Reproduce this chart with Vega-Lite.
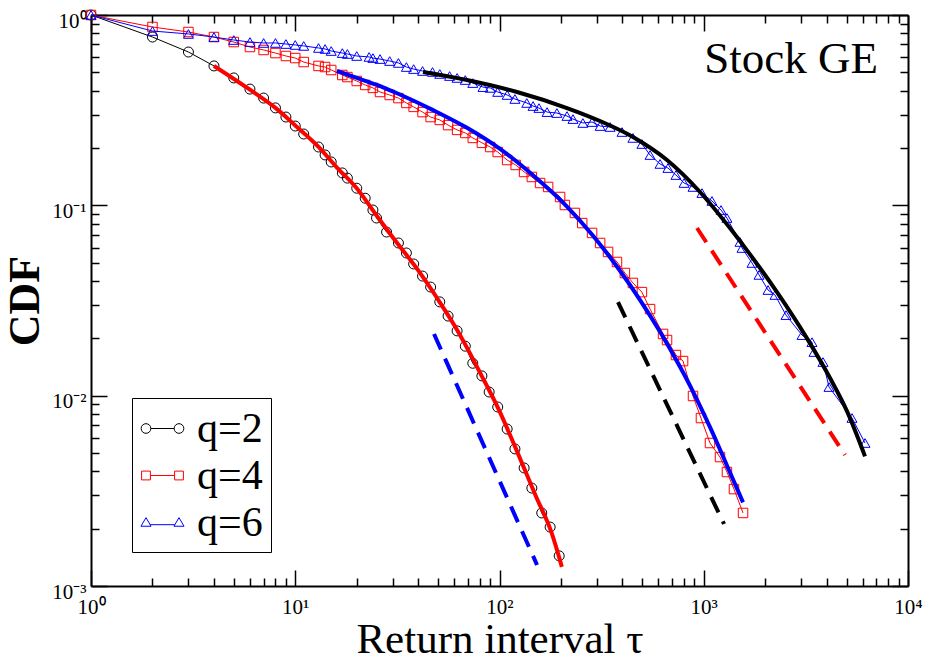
{
  "$schema": "https://vega.github.io/schema/vega-lite/v6.json",
  "width": 817,
  "height": 571,
  "autosize": "none",
  "padding": {"left": 91, "top": 15, "right": 27, "bottom": 79},
  "background": "white",
  "config": {
    "view": {"stroke": null},
    "font": "Liberation Serif",
    "axis": {"grid": false, "domainColor": "black", "domainWidth": 2, "tickColor": "black", "tickWidth": 1.5, "labelColor": "black", "titleColor": "black"}
  },
  "datasets": {
    "series": [
      {"q": "q=2", "tau": 1, "cdf": 1}, {"q": "q=2", "tau": 2, "cdf": 0.766}, {"q": "q=2", "tau": 3, "cdf": 0.639}, {"q": "q=2", "tau": 4, "cdf": 0.54}, {"q": "q=2", "tau": 5, "cdf": 0.467}, {"q": "q=2", "tau": 6, "cdf": 0.408}, {"q": "q=2", "tau": 7, "cdf": 0.366}, {"q": "q=2", "tau": 8, "cdf": 0.325}, {"q": "q=2", "tau": 9, "cdf": 0.291}, {"q": "q=2", "tau": 10, "cdf": 0.261}, {"q": "q=2", "tau": 11, "cdf": 0.237}, {"q": "q=2", "tau": 13, "cdf": 0.2025}, {"q": "q=2", "tau": 14, "cdf": 0.184}, {"q": "q=2", "tau": 15, "cdf": 0.169}, {"q": "q=2", "tau": 17, "cdf": 0.148}, {"q": "q=2", "tau": 18, "cdf": 0.139}, {"q": "q=2", "tau": 20, "cdf": 0.123}, {"q": "q=2", "tau": 22, "cdf": 0.109}, {"q": "q=2", "tau": 24, "cdf": 0.0945}, {"q": "q=2", "tau": 25, "cdf": 0.0858}, {"q": "q=2", "tau": 28, "cdf": 0.0724}, {"q": "q=2", "tau": 32, "cdf": 0.0634}, {"q": "q=2", "tau": 35, "cdf": 0.0562}, {"q": "q=2", "tau": 38, "cdf": 0.0492}, {"q": "q=2", "tau": 42, "cdf": 0.0425}, {"q": "q=2", "tau": 46, "cdf": 0.0372}, {"q": "q=2", "tau": 51, "cdf": 0.0311}, {"q": "q=2", "tau": 56, "cdf": 0.0262}, {"q": "q=2", "tau": 62, "cdf": 0.0219}, {"q": "q=2", "tau": 68, "cdf": 0.0182}, {"q": "q=2", "tau": 74, "cdf": 0.0148}, {"q": "q=2", "tau": 82, "cdf": 0.0127}, {"q": "q=2", "tau": 89, "cdf": 0.01045}, {"q": "q=2", "tau": 98, "cdf": 0.00872}, {"q": "q=2", "tau": 109, "cdf": 0.00668}, {"q": "q=2", "tau": 119, "cdf": 0.00525}, {"q": "q=2", "tau": 132, "cdf": 0.00417}, {"q": "q=2", "tau": 144, "cdf": 0.00327}, {"q": "q=2", "tau": 161, "cdf": 0.00242}, {"q": "q=2", "tau": 177, "cdf": 0.00204}, {"q": "q=2", "tau": 196, "cdf": 0.00144},
      {"q": "q=4", "tau": 1, "cdf": 1}, {"q": "q=4", "tau": 2, "cdf": 0.865}, {"q": "q=4", "tau": 3, "cdf": 0.814}, {"q": "q=4", "tau": 4, "cdf": 0.766}, {"q": "q=4", "tau": 5, "cdf": 0.721}, {"q": "q=4", "tau": 6, "cdf": 0.679}, {"q": "q=4", "tau": 7, "cdf": 0.655}, {"q": "q=4", "tau": 8, "cdf": 0.631}, {"q": "q=4", "tau": 9, "cdf": 0.609}, {"q": "q=4", "tau": 10, "cdf": 0.594}, {"q": "q=4", "tau": 11, "cdf": 0.566}, {"q": "q=4", "tau": 13, "cdf": 0.54}, {"q": "q=4", "tau": 14, "cdf": 0.533}, {"q": "q=4", "tau": 15, "cdf": 0.514}, {"q": "q=4", "tau": 17, "cdf": 0.484}, {"q": "q=4", "tau": 18, "cdf": 0.472}, {"q": "q=4", "tau": 20, "cdf": 0.45}, {"q": "q=4", "tau": 22, "cdf": 0.429}, {"q": "q=4", "tau": 24, "cdf": 0.414}, {"q": "q=4", "tau": 26, "cdf": 0.394}, {"q": "q=4", "tau": 29, "cdf": 0.38}, {"q": "q=4", "tau": 32, "cdf": 0.366}, {"q": "q=4", "tau": 35, "cdf": 0.345}, {"q": "q=4", "tau": 38, "cdf": 0.329}, {"q": "q=4", "tau": 42, "cdf": 0.309}, {"q": "q=4", "tau": 46, "cdf": 0.291}, {"q": "q=4", "tau": 51, "cdf": 0.281}, {"q": "q=4", "tau": 56, "cdf": 0.264}, {"q": "q=4", "tau": 62, "cdf": 0.249}, {"q": "q=4", "tau": 68, "cdf": 0.24}, {"q": "q=4", "tau": 74, "cdf": 0.226}, {"q": "q=4", "tau": 82, "cdf": 0.213}, {"q": "q=4", "tau": 90, "cdf": 0.2025}, {"q": "q=4", "tau": 98, "cdf": 0.1906}, {"q": "q=4", "tau": 109, "cdf": 0.173}, {"q": "q=4", "tau": 120, "cdf": 0.163}, {"q": "q=4", "tau": 132, "cdf": 0.1497}, {"q": "q=4", "tau": 144, "cdf": 0.1409}, {"q": "q=4", "tau": 158, "cdf": 0.131}, {"q": "q=4", "tau": 173, "cdf": 0.1249}, {"q": "q=4", "tau": 198, "cdf": 0.1106}, {"q": "q=4", "tau": 209, "cdf": 0.1004}, {"q": "q=4", "tau": 234, "cdf": 0.0912}, {"q": "q=4", "tau": 254, "cdf": 0.0807}, {"q": "q=4", "tau": 284, "cdf": 0.0716}, {"q": "q=4", "tau": 311, "cdf": 0.0634}, {"q": "q=4", "tau": 340, "cdf": 0.0569}, {"q": "q=4", "tau": 376, "cdf": 0.0504}, {"q": "q=4", "tau": 411, "cdf": 0.0441}, {"q": "q=4", "tau": 450, "cdf": 0.0391}, {"q": "q=4", "tau": 498, "cdf": 0.035}, {"q": "q=4", "tau": 546, "cdf": 0.0285}, {"q": "q=4", "tau": 632, "cdf": 0.0211}, {"q": "q=4", "tau": 661, "cdf": 0.0196}, {"q": "q=4", "tau": 731, "cdf": 0.01635}, {"q": "q=4", "tau": 792, "cdf": 0.0152}, {"q": "q=4", "tau": 886, "cdf": 0.00996}, {"q": "q=4", "tau": 969, "cdf": 0.00763}, {"q": "q=4", "tau": 1073, "cdf": 0.00564}, {"q": "q=4", "tau": 1201, "cdf": 0.00476}, {"q": "q=4", "tau": 1299, "cdf": 0.00397}, {"q": "q=4", "tau": 1406, "cdf": 0.00323}, {"q": "q=4", "tau": 1557, "cdf": 0.00242},
      {"q": "q=6", "tau": 1, "cdf": 1}, {"q": "q=6", "tau": 2, "cdf": 0.824}, {"q": "q=6", "tau": 3, "cdf": 0.795}, {"q": "q=6", "tau": 4, "cdf": 0.766}, {"q": "q=6", "tau": 5, "cdf": 0.739}, {"q": "q=6", "tau": 6, "cdf": 0.721}, {"q": "q=6", "tau": 7, "cdf": 0.713}, {"q": "q=6", "tau": 8, "cdf": 0.713}, {"q": "q=6", "tau": 9, "cdf": 0.704}, {"q": "q=6", "tau": 10, "cdf": 0.696}, {"q": "q=6", "tau": 11, "cdf": 0.688}, {"q": "q=6", "tau": 13, "cdf": 0.671}, {"q": "q=6", "tau": 14, "cdf": 0.663}, {"q": "q=6", "tau": 15, "cdf": 0.647}, {"q": "q=6", "tau": 17, "cdf": 0.631}, {"q": "q=6", "tau": 18, "cdf": 0.624}, {"q": "q=6", "tau": 20, "cdf": 0.609}, {"q": "q=6", "tau": 23, "cdf": 0.602}, {"q": "q=6", "tau": 24, "cdf": 0.594}, {"q": "q=6", "tau": 26, "cdf": 0.587}, {"q": "q=6", "tau": 29, "cdf": 0.573}, {"q": "q=6", "tau": 32, "cdf": 0.56}, {"q": "q=6", "tau": 35, "cdf": 0.533}, {"q": "q=6", "tau": 38, "cdf": 0.52}, {"q": "q=6", "tau": 42, "cdf": 0.508}, {"q": "q=6", "tau": 47, "cdf": 0.502}, {"q": "q=6", "tau": 51, "cdf": 0.49}, {"q": "q=6", "tau": 57, "cdf": 0.478}, {"q": "q=6", "tau": 62, "cdf": 0.467}, {"q": "q=6", "tau": 68, "cdf": 0.4555}, {"q": "q=6", "tau": 74, "cdf": 0.439}, {"q": "q=6", "tau": 83, "cdf": 0.418}, {"q": "q=6", "tau": 90, "cdf": 0.414}, {"q": "q=6", "tau": 98, "cdf": 0.394}, {"q": "q=6", "tau": 109, "cdf": 0.38}, {"q": "q=6", "tau": 119, "cdf": 0.362}, {"q": "q=6", "tau": 136, "cdf": 0.345}, {"q": "q=6", "tau": 146, "cdf": 0.3325}, {"q": "q=6", "tau": 156, "cdf": 0.3245}, {"q": "q=6", "tau": 171, "cdf": 0.309}, {"q": "q=6", "tau": 191, "cdf": 0.3055}, {"q": "q=6", "tau": 214, "cdf": 0.2946}, {"q": "q=6", "tau": 229, "cdf": 0.284}, {"q": "q=6", "tau": 256, "cdf": 0.2708}, {"q": "q=6", "tau": 284, "cdf": 0.274}, {"q": "q=6", "tau": 311, "cdf": 0.261}, {"q": "q=6", "tau": 348, "cdf": 0.258}, {"q": "q=6", "tau": 398, "cdf": 0.2428}, {"q": "q=6", "tau": 450, "cdf": 0.226}, {"q": "q=6", "tau": 498, "cdf": 0.21}, {"q": "q=6", "tau": 546, "cdf": 0.1838}, {"q": "q=6", "tau": 611, "cdf": 0.165}, {"q": "q=6", "tau": 668, "cdf": 0.157}, {"q": "q=6", "tau": 731, "cdf": 0.1443}, {"q": "q=6", "tau": 801, "cdf": 0.131}, {"q": "q=6", "tau": 886, "cdf": 0.1249}, {"q": "q=6", "tau": 980, "cdf": 0.116}, {"q": "q=6", "tau": 1097, "cdf": 0.1054}, {"q": "q=6", "tau": 1215, "cdf": 0.0945}, {"q": "q=6", "tau": 1299, "cdf": 0.0858}, {"q": "q=6", "tau": 1505, "cdf": 0.0642}, {"q": "q=6", "tau": 1539, "cdf": 0.0597}, {"q": "q=6", "tau": 1723, "cdf": 0.0498}, {"q": "q=6", "tau": 1865, "cdf": 0.0431}, {"q": "q=6", "tau": 2064, "cdf": 0.0359}, {"q": "q=6", "tau": 2233, "cdf": 0.0338}, {"q": "q=6", "tau": 2528, "cdf": 0.0265}, {"q": "q=6", "tau": 3028, "cdf": 0.0208}, {"q": "q=6", "tau": 3388, "cdf": 0.0191}, {"q": "q=6", "tau": 3466, "cdf": 0.01696}, {"q": "q=6", "tau": 3836, "cdf": 0.01502}, {"q": "q=6", "tau": 4105, "cdf": 0.0111}, {"q": "q=6", "tau": 5319, "cdf": 0.00763}, {"q": "q=6", "tau": 6159, "cdf": 0.00564}
    ],
    "fits": [
      {"q": "q=2", "tau": 4, "cdf": 0.54}, {"q": "q=2", "tau": 6, "cdf": 0.405}, {"q": "q=2", "tau": 8, "cdf": 0.325}, {"q": "q=2", "tau": 10, "cdf": 0.263}, {"q": "q=2", "tau": 13, "cdf": 0.203}, {"q": "q=2", "tau": 16, "cdf": 0.158}, {"q": "q=2", "tau": 20, "cdf": 0.123}, {"q": "q=2", "tau": 25, "cdf": 0.0885}, {"q": "q=2", "tau": 30, "cdf": 0.068}, {"q": "q=2", "tau": 40, "cdf": 0.0455}, {"q": "q=2", "tau": 50, "cdf": 0.032}, {"q": "q=2", "tau": 60, "cdf": 0.0235}, {"q": "q=2", "tau": 70, "cdf": 0.0175}, {"q": "q=2", "tau": 80, "cdf": 0.0133}, {"q": "q=2", "tau": 100, "cdf": 0.0083}, {"q": "q=2", "tau": 120, "cdf": 0.0053}, {"q": "q=2", "tau": 150, "cdf": 0.003}, {"q": "q=2", "tau": 180, "cdf": 0.0019}, {"q": "q=2", "tau": 202, "cdf": 0.00126},
      {"q": "q=4", "tau": 16, "cdf": 0.508}, {"q": "q=4", "tau": 21.5, "cdf": 0.455}, {"q": "q=4", "tau": 26.9, "cdf": 0.417}, {"q": "q=4", "tau": 31.5, "cdf": 0.3882}, {"q": "q=4", "tau": 47.3, "cdf": 0.3165}, {"q": "q=4", "tau": 69.3, "cdf": 0.2555}, {"q": "q=4", "tau": 100.6, "cdf": 0.1979}, {"q": "q=4", "tau": 145.9, "cdf": 0.1438}, {"q": "q=4", "tau": 214, "cdf": 0.0985}, {"q": "q=4", "tau": 287, "cdf": 0.0692}, {"q": "q=4", "tau": 389, "cdf": 0.0453}, {"q": "q=4", "tau": 487, "cdf": 0.0319}, {"q": "q=4", "tau": 611, "cdf": 0.02165}, {"q": "q=4", "tau": 765, "cdf": 0.01418}, {"q": "q=4", "tau": 886, "cdf": 0.01051}, {"q": "q=4", "tau": 1073, "cdf": 0.00683}, {"q": "q=4", "tau": 1299, "cdf": 0.0043}, {"q": "q=4", "tau": 1557, "cdf": 0.00275},
      {"q": "q=6", "tau": 42.2, "cdf": 0.502}, {"q": "q=6", "tau": 69.3, "cdf": 0.4555}, {"q": "q=6", "tau": 121.8, "cdf": 0.394}, {"q": "q=6", "tau": 214, "cdf": 0.3245}, {"q": "q=6", "tau": 310.5, "cdf": 0.2773}, {"q": "q=6", "tau": 450.4, "cdf": 0.2286}, {"q": "q=6", "tau": 660.7, "cdf": 0.173}, {"q": "q=6", "tau": 958.5, "cdf": 0.1175}, {"q": "q=6", "tau": 1391, "cdf": 0.0724}, {"q": "q=6", "tau": 1629, "cdf": 0.058}, {"q": "q=6", "tau": 2284, "cdf": 0.035}, {"q": "q=6", "tau": 3203, "cdf": 0.02}, {"q": "q=6", "tau": 4151, "cdf": 0.01238}, {"q": "q=6", "tau": 5026, "cdf": 0.00829}, {"q": "q=6", "tau": 6159, "cdf": 0.0048}
    ],
    "dashes": [
      {"q": "q=2", "tau": 47.8, "cdf": 0.0211}, {"q": "q=2", "tau": 152.7, "cdf": 0.00129},
      {"q": "q=4", "tau": 380.3, "cdf": 0.031}, {"q": "q=4", "tau": 1257, "cdf": 0.002117},
      {"q": "q=6", "tau": 926.8, "cdf": 0.076}, {"q": "q=6", "tau": 4916, "cdf": 0.00488}
    ],
    "note": [{"label": "Stock GE", "tau": 7130, "cdf": 0.496}],
    "keys": [{"q": "q=2"}, {"q": "q=4"}, {"q": "q=6"}]
  },
  "resolve": {"scale": {"color": "independent"}, "axis": {"x": "independent", "y": "independent"}},
  "layer": [
    {
      "data": {"name": "series"},
      "transform": [{"filter": "datum.q == 'q=2'"}],
      "mark": {"type": "line", "color": "#000000", "strokeWidth": 1, "point": {"shape": "circle", "filled": false, "stroke": "#000000", "fill": "transparent", "strokeWidth": 1, "size": 100, "opacity": 1}},
      "encoding": {
        "x": {"field": "tau", "type": "quantitative", "scale": {"type": "log", "domain": [1, 10000], "nice": false},
          "axis": {"orient": "bottom", "values": [1, 10, 100, 1000, 10000], "ticks": false, "domain": true, "labelExpr": "'10' + ['⁰','¹','²','³','⁴'][round(log(datum.value)/LN10)]", "labelFont": "Liberation Serif", "labelFontSize": 21, "labelPadding": 10, "labelFlush": false, "labelOverlap": false, "title": "Return interval τ", "titleFont": "Liberation Serif", "titleFontSize": 43, "titleFontWeight": "normal", "titlePadding": 1}},
        "y": {"field": "cdf", "type": "quantitative", "scale": {"type": "log", "domain": [0.001, 1], "nice": false},
          "axis": {"orient": "left", "values": [0.001, 0.01, 0.1, 1], "ticks": false, "domain": true, "labelExpr": "'10' + ['⁰','⁻¹','⁻²','⁻³'][round(-log(datum.value)/LN10)]", "labelFont": "Liberation Serif", "labelFontSize": 21, "labelPadding": 5, "labelBaseline": "alphabetic", "labelOffset": 12, "labelFlush": false, "labelOverlap": false, "title": "CDF", "titleFont": "Liberation Serif", "titleFontSize": 44, "titleFontWeight": "bold", "titlePadding": 4}}
      }
    },
    {
      "data": {"name": "series"},
      "transform": [{"filter": "datum.q == 'q=4'"}],
      "mark": {"type": "line", "color": "#ff0000", "strokeWidth": 1, "point": {"shape": "square", "filled": false, "stroke": "#ff0000", "fill": "transparent", "strokeWidth": 1, "size": 90, "opacity": 1}},
      "encoding": {
        "x": {"field": "tau", "type": "quantitative", "axis": {"orient": "bottom", "values": [1, 10, 100, 1000, 10000], "labels": false, "domain": false, "tickSize": -16, "title": null}},
        "y": {"field": "cdf", "type": "quantitative", "axis": {"orient": "left", "values": [0.001, 0.01, 0.1, 1], "labels": false, "domain": false, "tickSize": -16, "title": null}}
      }
    },
    {
      "data": {"name": "series"},
      "transform": [{"filter": "datum.q == 'q=6'"}],
      "mark": {"type": "line", "color": "#0000ff", "strokeWidth": 1, "point": {"shape": "triangle-up", "filled": false, "stroke": "#0000ff", "fill": "transparent", "strokeWidth": 1, "size": 100, "opacity": 1}},
      "encoding": {
        "x": {"field": "tau", "type": "quantitative", "axis": {"orient": "bottom", "values": [2, 3, 4, 5, 6, 7, 8, 9, 20, 30, 40, 50, 60, 70, 80, 90, 200, 300, 400, 500, 600, 700, 800, 900, 2000, 3000, 4000, 5000, 6000, 7000, 8000, 9000], "labels": false, "domain": false, "tickSize": -8, "title": null}},
        "y": {"field": "cdf", "type": "quantitative", "axis": {"orient": "left", "values": [0.002, 0.003, 0.004, 0.005, 0.006, 0.007, 0.008, 0.009, 0.02, 0.03, 0.04, 0.05, 0.06, 0.07, 0.08, 0.09, 0.2, 0.3, 0.4, 0.5, 0.6, 0.7, 0.8, 0.9], "labels": false, "domain": false, "tickSize": -8, "title": null}}
      }
    },
    {
      "data": {"name": "fits"},
      "mark": {"type": "line", "strokeWidth": 4, "interpolate": "monotone"},
      "encoding": {
        "x": {"field": "tau", "type": "quantitative", "axis": {"orient": "top", "values": [1, 10, 100, 1000, 10000], "labels": false, "domain": true, "tickSize": -16, "title": null}},
        "y": {"field": "cdf", "type": "quantitative", "axis": {"orient": "right", "values": [0.001, 0.01, 0.1, 1], "labels": false, "domain": true, "tickSize": -16, "title": null}},
        "color": {"field": "q", "type": "nominal", "scale": {"domain": ["q=2", "q=4", "q=6"], "range": ["#ff0000", "#0000ff", "#000000"]}, "legend": null}
      }
    },
    {
      "data": {"name": "dashes"},
      "mark": {"type": "line", "strokeWidth": 4, "strokeDash": [17, 10]},
      "encoding": {
        "x": {"field": "tau", "type": "quantitative", "axis": {"orient": "top", "values": [2, 3, 4, 5, 6, 7, 8, 9, 20, 30, 40, 50, 60, 70, 80, 90, 200, 300, 400, 500, 600, 700, 800, 900, 2000, 3000, 4000, 5000, 6000, 7000, 8000, 9000], "labels": false, "domain": false, "tickSize": -8, "title": null}},
        "y": {"field": "cdf", "type": "quantitative", "axis": {"orient": "right", "values": [0.002, 0.003, 0.004, 0.005, 0.006, 0.007, 0.008, 0.009, 0.02, 0.03, 0.04, 0.05, 0.06, 0.07, 0.08, 0.09, 0.2, 0.3, 0.4, 0.5, 0.6, 0.7, 0.8, 0.9], "labels": false, "domain": false, "tickSize": -8, "title": null}},
        "color": {"field": "q", "type": "nominal", "scale": {"domain": ["q=2", "q=4", "q=6"], "range": ["#0000ff", "#000000", "#ff0000"]}, "legend": null}
      }
    },
    {
      "data": {"name": "note"},
      "mark": {"type": "text", "font": "Liberation Serif", "fontSize": 45, "align": "right", "baseline": "alphabetic", "color": "black"},
      "encoding": {
        "x": {"field": "tau", "type": "quantitative", "axis": null},
        "y": {"field": "cdf", "type": "quantitative", "axis": null},
        "text": {"field": "label"}
      }
    },
    {
      "data": {"name": "keys"},
      "transform": [{"filter": "false"}],
      "mark": {"type": "point", "filled": false, "opacity": 1},
      "encoding": {
        "shape": {"field": "q", "type": "nominal",
          "scale": {"domain": ["q=2", "q=4", "q=6"], "range": [
            "M-0.97,0A0.22,0.22,0,1,1,-0.53,0A0.22,0.22,0,1,1,-0.97,0M-0.53,0L0.53,0M0.53,0A0.22,0.22,0,1,1,0.97,0A0.22,0.22,0,1,1,0.53,0",
            "M-0.95,-0.2L-0.55,-0.2L-0.55,0.2L-0.95,0.2ZM-0.55,0L0.55,0M0.55,-0.2L0.95,-0.2L0.95,0.2L0.55,0.2Z",
            "M-0.75,-0.22L-0.52,0.17L-0.98,0.17ZM-0.56,0.1L0.56,0.1M0.75,-0.22L0.98,0.17L0.52,0.17Z"]},
          "legend": {"title": null, "orient": "none", "legendX": 41, "legendY": 383, "padding": 8, "strokeColor": "black", "fillColor": "white", "labelFont": "Liberation Serif", "labelFontSize": 42, "labelColor": "black", "labelOffset": 12, "symbolSize": 1936, "symbolStrokeWidth": 1, "rowPadding": 3, "labelLimit": 0}},
        "stroke": {"field": "q", "type": "nominal",
          "scale": {"domain": ["q=2", "q=4", "q=6"], "range": ["#000000", "#ff0000", "#0000ff"]},
          "legend": {"title": null, "orient": "none", "legendX": 41, "legendY": 383, "padding": 8, "strokeColor": "black", "fillColor": "white", "labelFont": "Liberation Serif", "labelFontSize": 42, "labelColor": "black", "labelOffset": 12, "symbolSize": 1936, "symbolStrokeWidth": 1, "rowPadding": 3, "labelLimit": 0}}
      }
    }
  ]
}
